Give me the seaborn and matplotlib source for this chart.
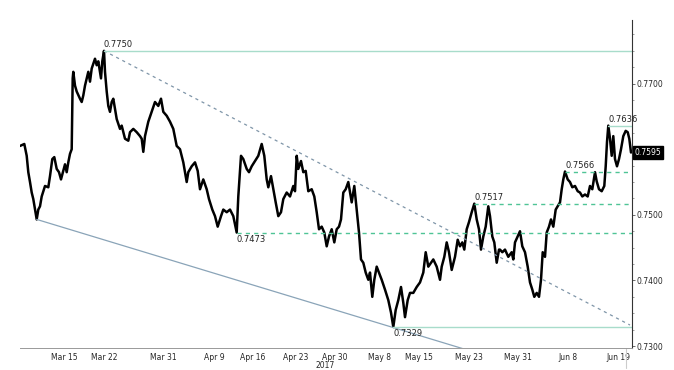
import matplotlib
matplotlib.use("Agg")
import matplotlib.pyplot as plt
import matplotlib.transforms as mtransforms
from matplotlib.ticker import FixedLocator, MultipleLocator, FuncFormatter
import pandas as pd
import seaborn as sns

# 3-hour bars since start of chart, price
bar = [0, 4.3, 6.7, 8.3, 10, 11.7, 13.3, 15, 16.7, 18.3, 20, 21.7, 25, 28.3, 30, 32.3, 34.3, 36.7, 39, 41,
       43.3, 45, 46.7, 48.3, 50, 51.7, 52.7, 53.3, 55, 56.7, 60, 61.7, 63.3, 65, 66.7, 68.3, 70, 71.7, 75, 76.7,
       78.3, 81, 82.3, 84, 85, 86.7, 88.3, 90, 91.7, 93.3, 96.7, 100, 101.7, 105, 108.3, 110, 113.3, 116.7, 120,
       121.7, 123.3, 125, 128.3, 131.7, 135, 138.3, 141, 143.3, 146.7, 150, 153.3, 156.7, 160, 163.3, 166.7,
       168.3, 171.7, 175, 177.7, 180, 183.3, 186.7, 189, 192.3, 195, 197.7, 201, 203.3, 206.7, 210, 213.3,
       216.7, 218.3, 221, 223.3, 226.7, 229, 231.7, 235, 238.3, 241.7, 244.3, 246.7, 248.3, 251, 253.3, 255.7,
       258.3, 261, 263.3, 266.7, 270, 273.3, 275, 276.7, 278.3, 281, 283.3, 285.7, 288.3, 291.7, 294.3, 296.7,
       299, 301.7, 304.3, 306.7, 309, 311.7, 314.3, 316.7, 319, 321, 323.3, 325.7, 328.3, 330, 331.7, 334.3,
       336.7, 339, 341, 343.3, 345.7, 348.3, 350, 352.3, 354.3, 356.7, 359, 361.7, 365, 368.3, 371, 373.3,
       375.7, 378.3, 381, 383.3, 385, 387.7, 390, 393.3, 396.7, 400, 403.3, 405.7, 408.3, 411, 413.3, 416.7,
       420, 421.7, 424.3, 426.7, 429, 431.7, 435, 437.7, 440, 442.3, 444.3, 446.7, 449, 451.7, 454.3, 456.7,
       459, 461, 463.3, 465.7, 468.3, 470, 472.3, 474.3, 476.7, 479, 480, 482.3, 485, 488.3, 491.7, 493.3, 495,
       497.7, 500, 502.3, 505, 507.7, 510, 512.3, 514.3, 516.7, 519, 521, 522.7, 525, 526.7, 529, 531, 533.3,
       535.7, 537.7, 540, 541.7, 543.3, 545, 547.7, 550, 552.3, 555, 557.7, 560, 562.3, 565, 567.7, 570, 572.3,
       575, 576.7, 579, 581.7, 584.3, 585.7, 587, 588.3, 590, 591.7, 593.3, 595, 597, 599, 601, 603.3, 605.7,
       607.7, 609.3, 611]
price = [0.7605, 0.7608, 0.7590, 0.7565, 0.7550, 0.7534, 0.7524, 0.7508, 0.7493, 0.7508, 0.7513, 0.7528,
         0.7544, 0.7542, 0.7559, 0.7585, 0.7588, 0.7570, 0.7565, 0.7554, 0.7567, 0.7577, 0.7565, 0.7580,
         0.7593, 0.7600, 0.7708, 0.7718, 0.7697, 0.7688, 0.7677, 0.7672, 0.7682, 0.7697, 0.7708, 0.7718,
         0.7703, 0.7723, 0.7738, 0.7728, 0.7734, 0.7708, 0.7734, 0.7750, 0.7718, 0.7688, 0.7666, 0.7657,
         0.7672, 0.7677, 0.7646, 0.7631, 0.7636, 0.7616, 0.7613, 0.7626, 0.7631, 0.7626, 0.7620, 0.7616,
         0.7596, 0.7620, 0.7642, 0.7657, 0.7672, 0.7666, 0.7677, 0.7657, 0.7651, 0.7642, 0.7631, 0.7605,
         0.7600, 0.7580, 0.7550, 0.7565, 0.7574, 0.7580, 0.7567, 0.7539, 0.7554, 0.7539, 0.7524, 0.7508,
         0.7498, 0.7482, 0.7498, 0.7508, 0.7504, 0.7508, 0.7498, 0.7473, 0.7528, 0.7590, 0.7585, 0.7570,
         0.7565, 0.7574, 0.7582, 0.7590, 0.7608, 0.7590, 0.7554, 0.7542, 0.7559, 0.7539, 0.7519, 0.7498,
         0.7504, 0.7524, 0.7534, 0.7528, 0.7544, 0.7536, 0.7590, 0.7570, 0.7582, 0.7565, 0.7567, 0.7536,
         0.7539, 0.7528, 0.7504, 0.7478, 0.7482, 0.7473, 0.7452, 0.7467, 0.7478, 0.7458, 0.7478, 0.7482,
         0.7493, 0.7534, 0.7539, 0.7550, 0.7534, 0.7519, 0.7544, 0.7508, 0.7473, 0.7432, 0.7427, 0.7412,
         0.7401, 0.7412, 0.7375, 0.7401, 0.7421, 0.7412, 0.7401, 0.7386, 0.7370, 0.7351, 0.7329, 0.7355,
         0.7370, 0.7390, 0.7366, 0.7344, 0.7370, 0.7381, 0.7381, 0.7390, 0.7397, 0.7412, 0.7443, 0.7421,
         0.7427, 0.7432, 0.7421, 0.7401, 0.7421, 0.7436, 0.7458, 0.7443, 0.7416, 0.7436, 0.7462, 0.7452,
         0.7458, 0.7447, 0.7478, 0.7489, 0.7504, 0.7517, 0.7493, 0.7478, 0.7447, 0.7467, 0.7482, 0.7513,
         0.7498, 0.7467, 0.7458, 0.7427, 0.7447, 0.7447, 0.7443, 0.7447, 0.7436, 0.7443, 0.7432, 0.7458,
         0.7467, 0.7475, 0.7452, 0.7443, 0.7421, 0.7397, 0.7386, 0.7375, 0.7381, 0.7375, 0.7401, 0.7443,
         0.7436, 0.7473, 0.7482, 0.7493, 0.7482, 0.7508, 0.7513, 0.7519, 0.7539, 0.7554, 0.7566, 0.7554,
         0.7550, 0.7542, 0.7544, 0.7536, 0.7534, 0.7528, 0.7531, 0.7528, 0.7544, 0.7539, 0.7565, 0.7551,
         0.7539, 0.7536, 0.7544, 0.7574, 0.7611, 0.7636, 0.7616, 0.7590, 0.7620, 0.7585, 0.7574, 0.7585,
         0.7600, 0.7620, 0.7628, 0.7626, 0.7616, 0.7595]

# tick labels on the date axis
tick_pos = [44, 84, 143, 194, 233, 276, 315, 359, 399, 449, 498, 548, 598]
tick_labels = ["Mar 15", "Mar 22", "Mar 31", "Apr 9", "Apr 16", "Apr 23", "Apr 30",
               "May 8", "May 15", "May 23", "May 31", "Jun 8", "Jun 19"]

# marked levels: (start bar, level, label side)
solid_levels = [(84, 0.7750, "above"), (588.3, 0.7636, "above"), (373.3, 0.7329, "below")]
dashed_levels = [(545, 0.7566, "above"), (454.3, 0.7517, "above"), (216.7, 0.7473, "below")]

# trend lines
resistance_x = [84, 610]
resistance_y = [0.7750, 0.7332]
support_x = [16.7, 445]
support_y = [0.7493, 0.7295]

last_price = 0.7595

df = pd.DataFrame({"bar": bar, "price": price})

sns.set_style("white")
fig = plt.figure(figsize=(6.74, 3.70), dpi=100)
ax = fig.add_axes([20 / 674, 1 - 348 / 370, 612 / 674, 328 / 370])

sns.lineplot(data=df, x="bar", y="price", ax=ax, color="black", linewidth=1.8)

ax.plot(resistance_x, resistance_y, color="#7f95a8", linestyle=(0, (2.5, 3)), linewidth=0.9)
ax.plot(support_x, support_y, color="#8aa4b8", linewidth=0.9)

for x0, lvl, side in solid_levels:
    ax.plot([x0, 612], [lvl, lvl], color="#a8dccb", linewidth=1.0)
for x0, lvl, side in dashed_levels:
    ax.plot([x0, 612], [lvl, lvl], color="#4fc496", linewidth=1.0, linestyle=(0, (3, 3)))

for x0, lvl, side in solid_levels + dashed_levels:
    if side == "above":
        ax.text(x0, lvl + 0.0003, f"{lvl:.4f}", fontsize=6, ha="left", va="bottom", color="#222222")
    else:
        ax.text(x0, lvl - 0.0003, f"{lvl:.4f}", fontsize=6, ha="left", va="top", color="#222222")

ax.set_xlim(0, 612)
ax.set_ylim(0.7297, 0.7797)


def price_fmt(v, pos):
    # the 0.7600 label sits under the last-price tag
    if abs(v - 0.76) < 1e-6:
        return ""
    return f"{v:.4f}"


ax.yaxis.tick_right()
ax.yaxis.set_major_locator(MultipleLocator(0.01))
ax.yaxis.set_minor_locator(MultipleLocator(0.0025))
ax.yaxis.set_major_formatter(FuncFormatter(price_fmt))
ax.xaxis.set_major_locator(FixedLocator(tick_pos))
ax.xaxis.set_minor_locator(MultipleLocator(8.16))
ax.set_xticklabels(tick_labels)
ax.tick_params(axis="both", which="major", labelsize=5.5, length=2.5, width=0.6, color="#555555", pad=1)
ax.tick_params(axis="both", which="minor", length=1.5, width=0.5, color="#777777")
ax.set_xlabel("")
ax.set_ylabel("")

for s in ["top", "left"]:
    ax.spines[s].set_visible(False)
ax.spines["right"].set_color("#333333")
ax.spines["right"].set_linewidth(0.8)
ax.spines["bottom"].set_color("#999999")
ax.spines["bottom"].set_linewidth(0.7)

# year under the date axis
trans = mtransforms.blended_transform_factory(ax.transData, ax.transAxes)
ax.text(305, -0.04, "2017", transform=trans, fontsize=5.5, ha="center", va="top")
ax.plot([606, 606], [0, -0.06], transform=trans, color="#cccccc", linewidth=0.8, clip_on=False)

# last price tag on the right axis
trans_y = mtransforms.blended_transform_factory(ax.transAxes, ax.transData)
ax.text(1.004, last_price, f"{last_price:.4f}", transform=trans_y, fontsize=5.5, color="white",
        ha="left", va="center", bbox=dict(boxstyle="square,pad=0.2", fc="black", ec="black"))

fig.savefig("out.png", dpi=100)
